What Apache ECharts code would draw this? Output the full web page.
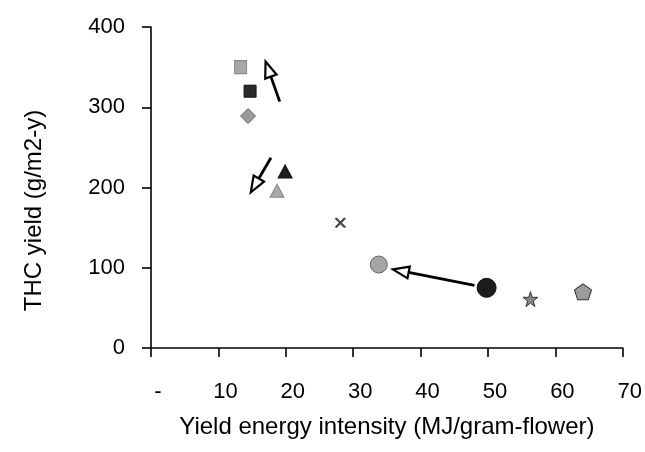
<!DOCTYPE html>
<html><head><meta charset="utf-8">
<script src="https://cdn.jsdelivr.net/npm/echarts@6/dist/echarts.min.js"></script>
<style>html,body{margin:0;padding:0;background:#fff}#c{width:645px;height:452px}</style>
</head><body><div id="c"></div>
<script>
// Data
const pointNames = ['A', 'B', 'C', 'D', 'E', 'F', 'G', 'H', 'I', 'J'];
const pointX = [13.3, 14.7, 14.4, 19.9, 18.7, 28.1, 33.8, 49.8, 56.3, 64.1];
const pointY = [350, 320, 289, 220, 196, 156, 104, 75, 61, 70];
const arrowFromX = [19.1, 17.8, 48.0];
const arrowFromY = [307, 237, 78];
const arrowToX = [17.0, 14.8, 35.9];
const arrowToY = [357, 194, 98];
const xTicks = [0, 10, 20, 30, 40, 50, 60, 70];
const yTicks = [0, 100, 200, 300, 400];

// Styles (not data)
const starPath = 'path://M50,0 L61,35 L98,35 L68,57 L79,91 L50,70 L21,91 L32,57 L2,35 L39,35 Z';
const pentPath = 'path://M50,0 L100,38 L81,100 L19,100 L0,38 Z';
const xPath = 'path://M0,10 L10,0 L50,40 L90,0 L100,10 L60,50 L100,90 L90,100 L50,60 L10,100 L0,90 L40,50 Z';
const styles = [
  {symbol: 'rect', size: [12, 13], color: '#a8a8a8', border: '#888'},
  {symbol: 'rect', size: [12, 12], color: '#2a2a2a', border: '#111'},
  {symbol: 'diamond', size: [15, 15], color: '#9a9a9a', border: '#666'},
  {symbol: 'triangle', size: [14, 13], color: '#1e1e1e', border: '#111'},
  {symbol: 'triangle', size: [14, 13], color: '#a8a8a8', border: '#888'},
  {symbol: xPath, size: [10, 10], color: '#444', border: '#444'},
  {symbol: 'circle', size: [17, 17], color: '#a5a5a5', border: '#666'},
  {symbol: 'circle', size: [19, 19], color: '#1c1c1c', border: '#111'},
  {symbol: starPath, size: [15, 15], color: '#8a8a8a', border: '#333'},
  {symbol: pentPath, size: [17, 16], color: '#9c9c9c', border: '#333'}
];

const series = pointNames.map((n, i) => ({
  name: n,
  type: 'scatter',
  data: [[pointX[i], pointY[i]]],
  symbol: styles[i].symbol,
  symbolSize: styles[i].size,
  itemStyle: {color: styles[i].color, borderColor: styles[i].border, borderWidth: 1, opacity: 1},
  z: 3
}));

const arrowData = arrowFromX.map((x, i) => [x, arrowFromY[i], arrowToX[i], arrowToY[i]]);
series.push({
  type: 'custom',
  data: arrowData,
  encode: {x: [0, 2], y: [1, 3]},
  z: 4,
  renderItem: function (params, api) {
    const p0 = api.coord([api.value(0), api.value(1)]);
    const p1 = api.coord([api.value(2), api.value(3)]);
    const dx = p1[0] - p0[0], dy = p1[1] - p0[1];
    const len = Math.sqrt(dx * dx + dy * dy);
    const ux = dx / len, uy = dy / len;
    const hl = 16, hw = 6;
    const bx = p1[0] - ux * hl, by = p1[1] - uy * hl;
    const nx = -uy, ny = ux;
    return {
      type: 'group',
      children: [
        {type: 'line', shape: {x1: p0[0], y1: p0[1], x2: bx, y2: by},
         style: {stroke: '#000', lineWidth: 2.8}},
        {type: 'polygon', shape: {points: [[p1[0], p1[1]], [bx + nx * hw, by + ny * hw], [bx - nx * hw, by - ny * hw]]},
         style: {fill: '#fff', stroke: '#000', lineWidth: 2.2, lineJoin: 'miter'}}
      ]
    };
  }
});

const chart = echarts.init(document.getElementById('c'), null, {renderer: 'canvas'});
chart.setOption({
  animation: false,
  backgroundColor: '#fff',
  grid: {left: 151, right: 21, top: 27, bottom: 104, containLabel: false},
  xAxis: {
    type: 'value', min: xTicks[0], max: xTicks[xTicks.length - 1], interval: 10,
    name: 'Yield energy intensity (MJ/gram-flower)',
    nameLocation: 'middle', nameGap: 67,
    nameTextStyle: {fontFamily: 'Liberation Sans', fontSize: 24, color: '#000'},
    axisLine: {lineStyle: {color: '#000', width: 1.6}},
    axisTick: {show: true, inside: false, length: 9, lineStyle: {color: '#000', width: 1.6}},
    axisLabel: {fontFamily: 'Liberation Sans', fontSize: 22, color: '#000', margin: 33,
      padding: [0, 0, 0, 14],
      formatter: v => v === 0 ? '-' : String(v)},
    splitLine: {show: false}
  },
  yAxis: {
    type: 'value', min: yTicks[0], max: yTicks[yTicks.length - 1], interval: 100,
    name: 'THC yield (g/m2-y)',
    nameLocation: 'middle', nameGap: 105,
    nameTextStyle: {fontFamily: 'Liberation Sans', fontSize: 24, color: '#000', padding: [0, 46, 0, 0]},
    axisLine: {show: true, lineStyle: {color: '#000', width: 1.6}},
    axisTick: {show: true, inside: false, length: 9, lineStyle: {color: '#000', width: 1.6}},
    axisLabel: {fontFamily: 'Liberation Sans', fontSize: 22, color: '#000', margin: 26},
    splitLine: {show: false}
  },
  series: series
});
</script></body></html>
